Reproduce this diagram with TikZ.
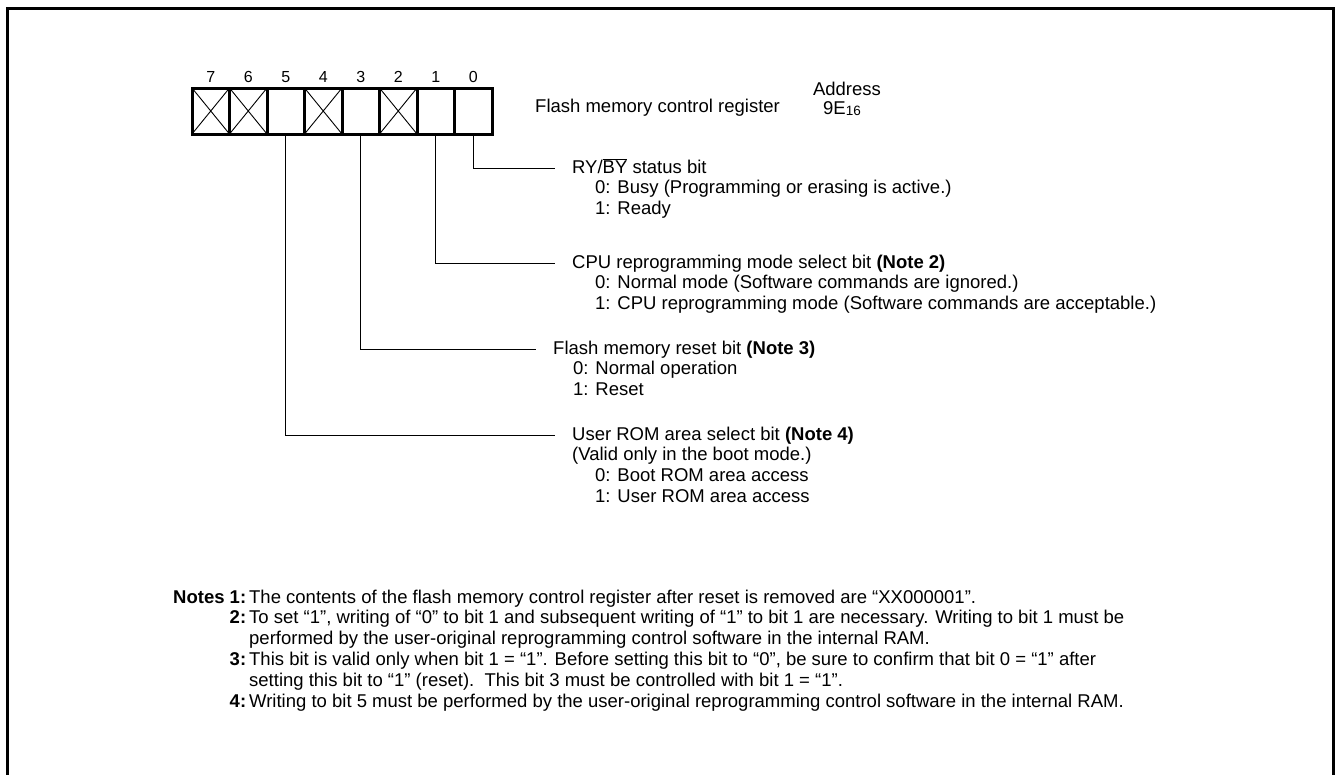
\documentclass[tikz,border=0pt]{standalone}
\usepackage{fontspec}
\setmainfont{Liberation Sans}
\usetikzlibrary{positioning}

\begin{document}
\begin{tikzpicture}[x=1pt,y=-1pt,
  bitcell/.style={draw,line width=3pt,minimum width=37.5pt,minimum height=46pt,inner sep=0pt,outer sep=0pt},
  bitno/.style={font=\fontsize{16}{16}\selectfont,inner sep=0pt},
  desc/.style={anchor=base west,inner sep=0pt,font=\fontsize{18.5}{20.8}\selectfont},
  lead/.style={line width=0.9pt}]
  \useasboundingbox (0,0) rectangle (1337,774);
  % outer frame, open at the bottom
  \draw[line width=3pt] (7.5,840) -- (7.5,8) -- (1333.5,8) -- (1333.5,840);
  % register cells, bit 7 on the left
  \foreach \b in {0,...,7}{
    \node[bitcell] (b\b) at ({473.25-37.5*\b},111) {};
    \node[bitno,above=5pt of b\b] (n\b) {\b};
  }
  \foreach \b in {7,6,4,2}
    \draw[lead] (b\b.north west) -- (b\b.south east) (b\b.north east) -- (b\b.south west);
  \node[desc] (reg) at (535,112) {Flash memory control register};
  \node[desc,anchor=base] (addr) at (847,95) {Address};
  \node[desc,anchor=base] (addrval) at (842,114) {9E\raisebox{-1pt}{\fontsize{13.5}{14}\selectfont 16}};
  % bit descriptions
  \node[desc] (t0) at (572,173) {\begin{tabular}[t]{@{}l@{}}
    RY/$\overline{\mbox{BY}}$ status bit\\
    \hspace*{23pt}0: Busy (Programming or erasing is active.)\\
    \hspace*{23pt}1: Ready\end{tabular}};
  \node[desc] (t1) at (572,268) {\begin{tabular}[t]{@{}l@{}}
    CPU reprogramming mode select bit \textbf{(Note 2)}\\
    \hspace*{23pt}0: Normal mode (Software commands are ignored.)\\
    \hspace*{23pt}1: CPU reprogramming mode (Software commands are acceptable.)\end{tabular}};
  \node[desc] (t3) at (553,354) {\begin{tabular}[t]{@{}l@{}}
    Flash memory reset bit \textbf{(Note 3)}\\
    \hspace*{20pt}0: Normal operation\\
    \hspace*{20pt}1: Reset\end{tabular}};
  \node[desc] (t5) at (572,440) {\begin{tabular}[t]{@{}l@{}}
    User ROM area select bit \textbf{(Note 4)}\\
    (Valid only in the boot mode.)\\
    \hspace*{23pt}0: Boot ROM area access\\
    \hspace*{23pt}1: User ROM area access\end{tabular}};
  \foreach \b in {0,1,3,5}{
    \coordinate (e\b) at ([shift={(-17pt,5pt)}]t\b.base west);
    \draw[lead] (b\b.south) |- (e\b);
  }
  % notes
  \node[desc] (notes) at (173,603) {\begin{tabular}[t]{@{}r@{\hspace{3pt}}l@{}}
    \textbf{Notes 1:} & The contents of the flash memory control register after reset is removed are “XX000001”.\\
    \textbf{2:} & To set “1”, writing of “0” to bit 1 and subsequent writing of “1” to bit 1 are necessary. Writing to bit 1 must be\\
    & performed by the user-original reprogramming control software in the internal RAM.\\
    \textbf{3:} & This bit is valid only when bit 1 = “1”. Before setting this bit to “0”, be sure to confirm that bit 0 = “1” after\\
    & setting this bit to “1” (reset).\ \ This bit 3 must be controlled with bit 1 = “1”.\\
    \textbf{4:} & Writing to bit 5 must be performed by the user-original reprogramming control software in the internal RAM.
  \end{tabular}};
\end{tikzpicture}
\end{document}
